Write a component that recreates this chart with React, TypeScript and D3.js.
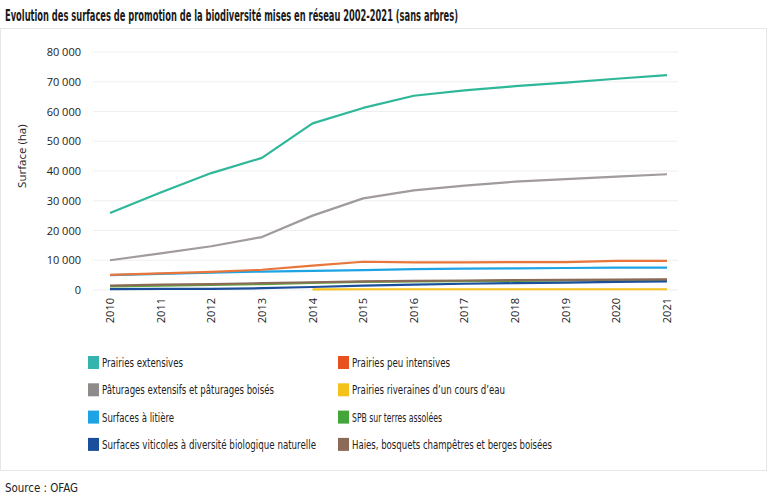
import * as d3 from "d3";

const years = [2010, 2011, 2012, 2013, 2014, 2015, 2016, 2017, 2018, 2019, 2020, 2021];
const yTicks = [0, 10000, 20000, 30000, 40000, 50000, 60000, 70000, 80000];

// surfaces en ha
const prairiesExtensives = [25900, 32800, 39300, 44400, 56000, 61200, 65300, 67100, 68500, 69700, 71000, 72200];
const paturages = [10000, 12300, 14700, 17800, 25000, 30800, 33500, 35100, 36400, 37300, 38100, 38900];
const prairiesPeuIntensives = [5100, 5600, 6100, 6800, 8200, 9500, 9300, 9300, 9400, 9400, 9800, 9800];
const litiere = [5000, 5400, 5800, 6200, 6400, 6700, 7000, 7200, 7300, 7400, 7500, 7500];
const haies = [1500, 1800, 2000, 2300, 2600, 2900, 3100, 3200, 3300, 3400, 3500, 3600];
const spb = [1200, 1500, 1700, 2000, 2400, 2700, 2900, 3000, 3100, 3200, 3300, 3400];
const viticoles = [300, 350, 400, 600, 1000, 1500, 1800, 2100, 2300, 2500, 2700, 2900];
const riveraines = [null, null, null, null, 200, 250, 250, 250, 250, 250, 250, 250];

type Series = { name: string; color: string; legend: string; values: (number | null)[]; w: number };

const series: Series[] = [
  { name: "Prairies extensives", color: "#2fb79a", legend: "#35b3ad", values: prairiesExtensives, w: 81 },
  { name: "Prairies peu intensives", color: "#e8763a", legend: "#e8501e", values: prairiesPeuIntensives, w: 98 },
  { name: "Pâturages extensifs et pâturages boisés", color: "#a19b9b", legend: "#8f8b8b", values: paturages, w: 172 },
  { name: "Prairies riveraines d’un cours d’eau", color: "#f5c21b", legend: "#f5c21b", values: riveraines, w: 153 },
  { name: "Surfaces à litière", color: "#1ea4e4", legend: "#1ea4e4", values: litiere, w: 72 },
  { name: "SPB sur terres assolées", color: "#5aa83a", legend: "#43a53a", values: spb, w: 90 },
  { name: "Surfaces viticoles à diversité biologique naturelle", color: "#1b4f9c", legend: "#1b4f9c", values: viticoles, w: 214 },
  { name: "Haies, bosquets champêtres et berges boisées", color: "#8c6a58", legend: "#8c6a58", values: haies, w: 200 },
];

// draw order: bottom lines first
const drawOrder = [5, 6, 7, 3, 4, 1, 2, 0];

const W = 769;
const H = 500;
const x = d3.scalePoint<number>().domain(years).range([110, 667]);
const y = d3.scaleLinear().domain([0, 80000]).range([290, 52]);
const fmt = (v: number) => (v === 0 ? "0" : d3.format(",")(v).replace(/,/g, " "));

const condensed = "'DejaVu Sans Condensed', 'DejaVu Sans', sans-serif";

export default function App() {
  const line = d3
    .line<number | null>()
    .defined((d) => d !== null)
    .x((_, i) => x(years[i]) as number)
    .y((d) => y(d as number));

  return (
    <svg width={W} height={H} style={{ position: "absolute", left: 0, top: 0, background: "#fff" }}>
      <rect x={0.5} y={28.5} width={766} height={442} fill="#fff" stroke="#e6e6e6" />
      <text
        x={5}
        y={21}
        fontFamily={condensed}
        fontStretch="condensed"
        fontWeight="bold"
        fontSize={16}
        fill="#1a1a1a"
        textLength={453}
        lengthAdjust="spacingAndGlyphs"
      >
        Evolution des surfaces de promotion de la biodiversité mises en réseau 2002-2021 (sans arbres)
      </text>

      {yTicks.map((t) => (
        <g key={t}>
          <line x1={93} x2={678} y1={y(t)} y2={y(t)} stroke="#efefef" />
          <text x={81} y={y(t) + 4} textAnchor="end" fontFamily="Open Sans" fontSize={11} fill="#222">
            {fmt(t)}
          </text>
        </g>
      ))}
      <text
        transform={`translate(26,${y(45000)}) rotate(-90)`}
        textAnchor="middle"
        fontFamily="Open Sans"
        fontSize={11.5}
        fill="#222"
      >
        Surface (ha)
      </text>

      {years.map((yr) => (
        <text
          key={yr}
          transform={`translate(${(x(yr) as number) + 4},298) rotate(-90)`}
          textAnchor="end"
          fontFamily="Open Sans"
          fontSize={11}
          fill="#222"
        >
          {yr}
        </text>
      ))}

      {drawOrder.map((i) => (
        <path
          key={series[i].name}
          d={line(series[i].values) || ""}
          fill="none"
          stroke={series[i].color}
          strokeWidth={2.2}
          strokeLinejoin="round"
        />
      ))}

      {series.map((s, i) => {
        const col = i % 2;
        const row = Math.floor(i / 2);
        const lx = col === 0 ? 88 : 338;
        const ly = 363 + row * 27.3;
        return (
          <g key={s.name}>
            <rect x={lx} y={ly - 7} width={11} height={13} fill={s.legend} />
            <text
              x={lx + 14}
              y={ly + 4}
              fontFamily={condensed}
              fontStretch="condensed"
              fontSize={12}
              fill="#222"
              textLength={s.w}
              lengthAdjust="spacingAndGlyphs"
            >
              {s.name}
            </text>
          </g>
        );
      })}

      <text
        x={5}
        y={492}
        fontFamily={condensed}
        fontStretch="condensed"
        fontSize={12.5}
        fill="#222"
        textLength={73}
        lengthAdjust="spacingAndGlyphs"
      >
        Source : OFAG
      </text>
    </svg>
  );
}
